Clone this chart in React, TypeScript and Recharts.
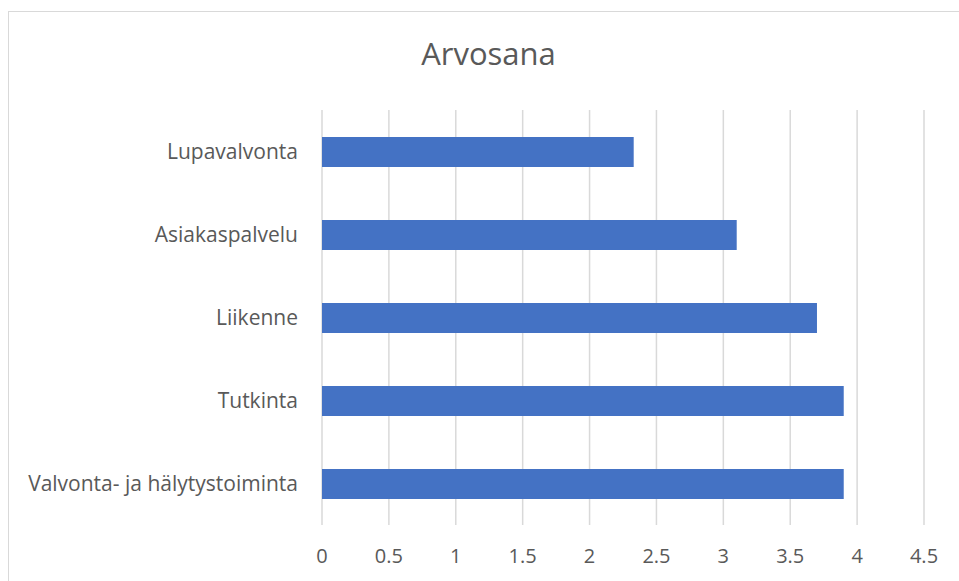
import { BarChart, Bar, XAxis, YAxis, CartesianGrid } from "recharts";

const categories = ["Lupavalvonta", "Asiakaspalvelu", "Liikenne", "Tutkinta", "Valvonta- ja hälytystoiminta"];
const arvosana = [2.33, 3.1, 3.7, 3.9, 3.9];
const xTicks = [0, 0.5, 1, 1.5, 2, 2.5, 3, 3.5, 4, 4.5];

const data = categories.map((name, i) => ({ name, value: arvosana[i] }));

const font = "'Open Sans', sans-serif";
const textColor = "#595959";

export default function App() {
  // fixed frame so nothing overflows the page; its right and bottom edges sit off-screen
  return (
    <div
      style={{
        position: "fixed",
        left: 8,
        top: 11,
        width: 960,
        height: 580,
        overflow: "hidden",
        borderTop: "1px solid #d9d9d9",
        borderLeft: "1px solid #d9d9d9",
        background: "#fff",
      }}
    >
      <div
        style={{
          position: "absolute",
          top: 26,
          left: 0,
          width: 959,
          textAlign: "center",
          fontFamily: font,
          fontSize: 31,
          lineHeight: "31px",
          color: textColor,
        }}
      >
        Arvosana
      </div>
      <BarChart
        width={950}
        height={569}
        data={data}
        layout="vertical"
        margin={{ top: 98, right: 35, bottom: 16, left: 0 }}
        barSize={30}
      >
        <CartesianGrid horizontal={false} stroke="#d9d9d9" strokeWidth={1.5} />
        <XAxis
          type="number"
          domain={[0, 4.5]}
          ticks={xTicks}
          axisLine={false}
          tickLine={false}
          tickSize={0}
          tickMargin={24}
          height={40}
          interval={0}
          tick={{ fontSize: 20, fill: textColor, fontFamily: font }}
        />
        <YAxis
          type="category"
          dataKey="name"
          width={313}
          axisLine={false}
          tickLine={false}
          tickSize={0}
          tickMargin={24}
          interval={0}
          tick={{ fontSize: 21, fill: textColor, fontFamily: font }}
        />
        <Bar dataKey="value" fill="#4472c4" isAnimationActive={false} />
      </BarChart>
    </div>
  );
}
